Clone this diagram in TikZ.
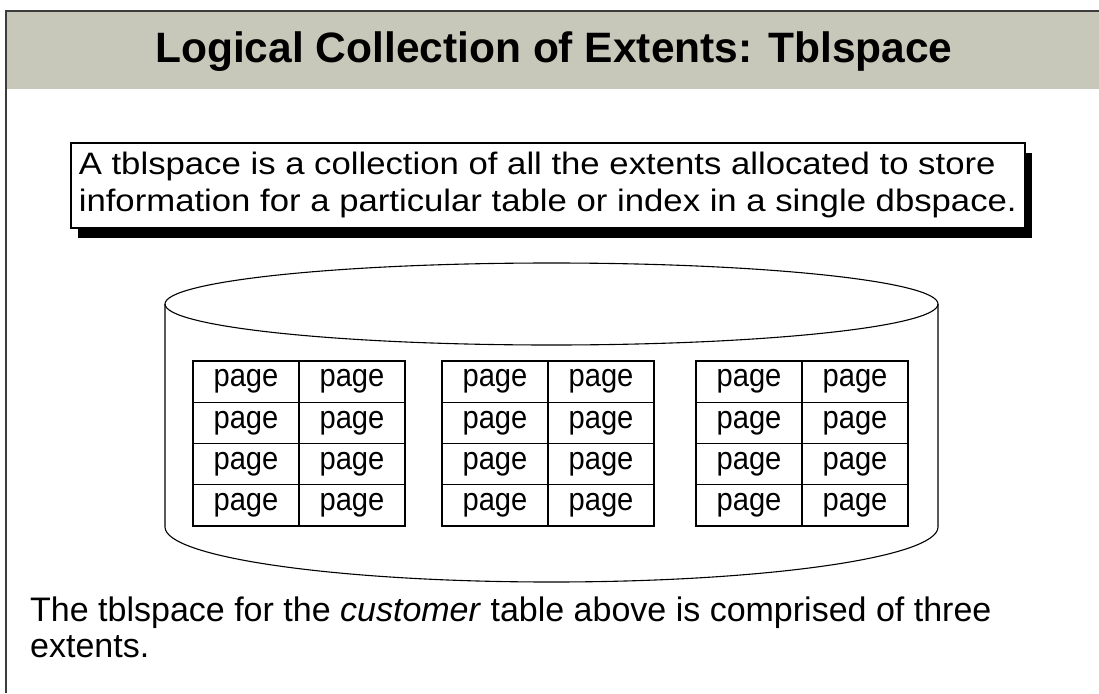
\documentclass[tikz,border=0pt]{standalone}
\usepackage{fontspec}
\setmainfont{Liberation Sans}
\newfontfamily\boxfont[FakeStretch=1.12]{Liberation Sans}
\newfontfamily\pagefont[FakeStretch=0.91]{Liberation Sans}
\usetikzlibrary{shadows}
\definecolor{titlegray}{RGB}{200,200,186}
\definecolor{framegray}{RGB}{60,60,60}
\begin{document}
\begin{tikzpicture}[x=1pt,y=-1pt,
  cell/.style={draw=black,line width=1.4pt,minimum width=106pt,minimum height=41.25pt,inner sep=0pt,
    font=\pagefont\fontsize{32}{33}\selectfont},
  textbox/.style={draw=black,line width=1.6pt,fill=white,anchor=north west,align=left,
    minimum width=954pt,minimum height=85pt,inner xsep=4pt,inner ysep=0pt,
    drop shadow={shadow xshift=7pt,shadow yshift=-10pt,fill=black,opacity=1},
    font=\boxfont\fontsize{31}{36.7}\selectfont},
  cyl/.style={draw=black,line width=1.1pt}]
\useasboundingbox (0,0) rectangle (1099,693);
\fill[white] (0,0) rectangle (1099,693);
% title bar
\fill[titlegray] (6,11) rectangle (1099,89);
\draw[framegray,line width=1.8pt] (6,693) -- (6,11) -- (1099,11);
\node[anchor=base west,inner sep=0pt] (title) at (155,63) {\fontsize{42.5}{44}\selectfont\bfseries Logical Collection of Extents: Tblspace};
% text box
\node[textbox] (box) at (70,142) {A tblspace is a collection of all the extents allocated to store\\information for a particular table or index in a single dbspace.};
% cylinder
\coordinate (tc) at (551.5,304);
\coordinate (tl) at (165,304);
\coordinate (tr) at (938,304);
\coordinate (bl) at (165,527);
\coordinate (br) at (938,527);
\draw[cyl] (tc) ellipse [x radius=386.5pt,y radius=41pt];
\draw[cyl] (tl) -- (bl) arc[start angle=180,end angle=360,x radius=386.5pt,y radius=55pt] -- (br) -- (tr);
% extents
\foreach \g/\x in {1/193,2/442,3/696}{
  \foreach \r in {1,2,3,4}{
    \foreach \c in {1,2}{
      \node[cell] (g\g r\r c\c) at ({\x+(\c-1)*106+53},{361+(\r-1)*41.25+20.625}) {page};
    }
  }
}
% bottom text
\node[anchor=north west,align=left,inner sep=0pt,font=\fontsize{34}{35.7}\selectfont] (note) at (30,597)
  {The tblspace for the \textit{customer} table above is comprised of three\\extents.};
\end{tikzpicture}
\end{document}
